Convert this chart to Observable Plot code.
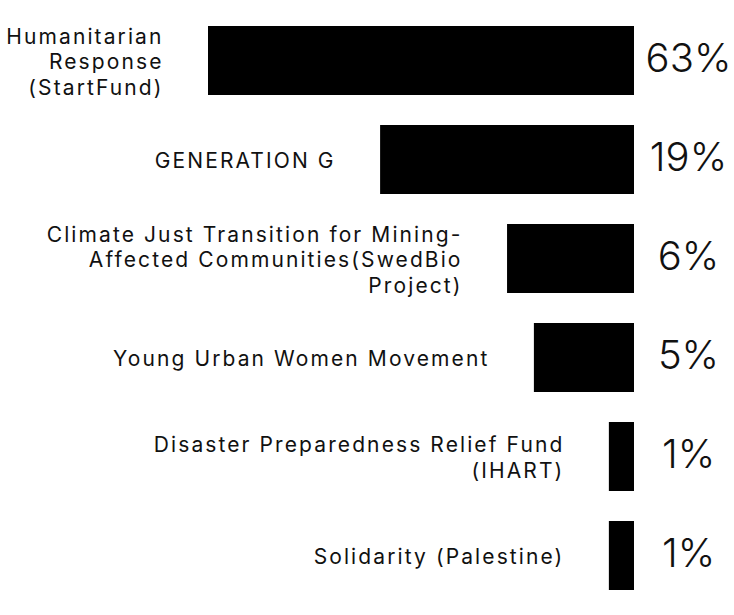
<!DOCTYPE html>
<html>
<head>
<meta charset="utf-8">
<script src="https://cdn.jsdelivr.net/npm/d3@7"></script>
<script src="https://cdn.jsdelivr.net/npm/@observablehq/plot@0.6"></script>
<style>
  html, body { margin: 0; padding: 0; background: #fff; }
</style>
</head>
<body>
<div id="chart"></div>
<script>
// Categories (label text, with its line breaks as shown)
const categories = [
  "Humanitarian\nResponse\n(StartFund)",
  "GENERATION G",
  "Climate Just Transition for Mining-\nAffected Communities(SwedBio\nProject)",
  "Young Urban Women Movement",
  "Disaster Preparedness Relief Fund\n(IHART)",
  "Solidarity (Palestine)"
];
// Share labels shown at the right (%)
const shares = [63, 19, 6, 5, 1, 1];
// Bar lengths as drawn, relative to the longest bar (= 100)
const barLengths = [100, 59.6, 29.8, 23.5, 5.9, 5.9];

const data = categories.map((c, i) => ({category: c, share: shares[i], length: barLengths[i]}));

const chart = Plot.plot({
  width: 734,
  height: 615,
  marginLeft: 208,
  marginRight: 100,
  marginTop: 25,
  marginBottom: 23,
  style: {fontFamily: "Inter, 'Noto Sans', sans-serif", background: "#fff", color: "#000"},
  x: {domain: [0, 100], reverse: true, axis: null},
  y: {domain: categories, paddingInner: 0.3, paddingOuter: 0, axis: null},
  marks: [
    Plot.barX(data, {x1: 0, x2: "length", y: "category", fill: "#000"}),
    Plot.text(data, {
      x: "length", y: "category", text: "category",
      textAnchor: "end", dx: -45, lineHeight: 1.22,
      fontSize: 21, fill: "#111"
    }),
    Plot.text(data, {
      y: "category", text: d => `${d.share}%`,
      frameAnchor: "right", textAnchor: "middle", dx: 54, dy: -2,
      fontSize: 40, fontWeight: 300, fill: "#111"
    })
  ]
});
// letter spacing for the category labels only
const textGroups = chart.querySelectorAll('g[aria-label="text"]');
if (textGroups.length) textGroups[0].style.letterSpacing = "2.1px";
document.getElementById("chart").append(chart);
</script>
</body>
</html>
